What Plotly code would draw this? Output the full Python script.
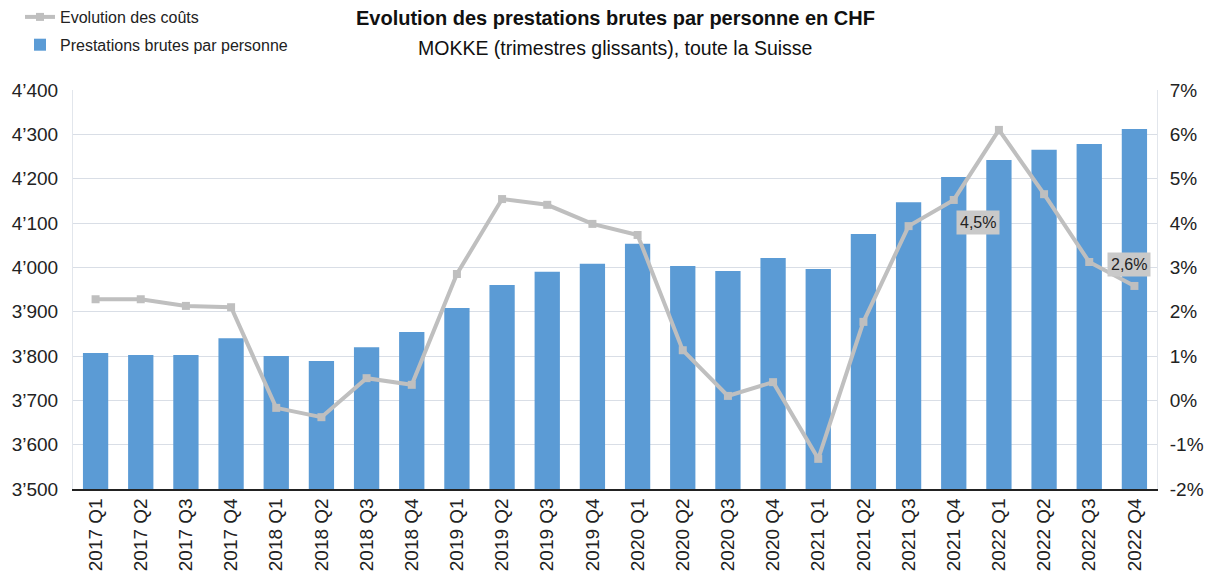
import plotly.graph_objects as go

categories = ["2017 Q1", "2017 Q2", "2017 Q3", "2017 Q4",
              "2018 Q1", "2018 Q2", "2018 Q3", "2018 Q4",
              "2019 Q1", "2019 Q2", "2019 Q3", "2019 Q4",
              "2020 Q1", "2020 Q2", "2020 Q3", "2020 Q4",
              "2021 Q1", "2021 Q2", "2021 Q3", "2021 Q4",
              "2022 Q1", "2022 Q2", "2022 Q3", "2022 Q4"]

prestations = [3807, 3802, 3802, 3840, 3800, 3789, 3820, 3854,
               3908, 3960, 3990, 4008, 4053, 4003, 3992, 4021,
               3996, 4075, 4147, 4204, 4242, 4265, 4278, 4312]

evolution = [2.28, 2.28, 2.13, 2.10, -0.17, -0.38, 0.50, 0.35,
             2.85, 4.54, 4.41, 3.98, 3.73, 1.13, 0.10, 0.41,
             -1.32, 1.77, 3.93, 4.52, 6.10, 4.65, 3.12, 2.58]

left_ticks = [3500, 3600, 3700, 3800, 3900, 4000, 4100, 4200, 4300, 4400]
left_ticktext = ["3’500", "3’600", "3’700", "3’800", "3’900", "4’000", "4’100", "4’200", "4’300", "4’400"]
right_ticks = [-2, -1, 0, 1, 2, 3, 4, 5, 6, 7]
right_ticktext = ["-2%", "-1%", "0%", "1%", "2%", "3%", "4%", "5%", "6%", "7%"]

label_points = [("2021 Q4", 4.52, "4,5%", 24, -23), ("2022 Q4", 2.58, "2,6%", -5, 21)]

FONT = "Liberation Sans, Arial, sans-serif"

fig = go.Figure()
fig.add_trace(go.Bar(
    x=categories, y=prestations, name="Prestations brutes par personne",
    legendrank=2, legendgroup="bars",
    marker=dict(color="#5B9BD5", line=dict(width=0)),
))
fig.add_trace(go.Scatter(
    x=categories, y=evolution, name="Evolution des coûts", yaxis="y2",
    legendrank=1, legendgroup="line",
    mode="lines+markers",
    line=dict(color="#BFBFBF", width=4),
    marker=dict(symbol="square", size=8, color="#BFBFBF"),
))

for cat, val, txt, dx, dy in label_points:
    fig.add_annotation(x=cat, y=val, yref="y2", text=txt, showarrow=False,
                       xshift=dx, yshift=dy, bgcolor="#C9C9C9",
                       font=dict(family=FONT, size=16, color="#222222"),
                       borderpad=3)

fig.add_annotation(xref="paper", yref="paper", x=0.5, y=(489 - 18) / 399,
                   yanchor="middle", xanchor="center",
                   text="<b>Evolution des prestations brutes par personne en CHF</b>",
                   showarrow=False, font=dict(family=FONT, size=20, color="#111111"))
fig.add_annotation(xref="paper", yref="paper", x=0.5, y=(489 - 48) / 399,
                   yanchor="middle", xanchor="center",
                   text="MOKKE (trimestres glissants), toute la Suisse",
                   showarrow=False, font=dict(family=FONT, size=19.5, color="#111111"))

fig.update_layout(
    width=1213, height=574,
    margin=dict(l=73, r=56, t=90, b=85, autoexpand=False),
    paper_bgcolor="white", plot_bgcolor="white",
    font=dict(family=FONT, size=19, color="#222222"),
    bargap=0.44,
    showlegend=True,
    legend=dict(xref="container", yref="container", x=0.0165, y=1.0,
                xanchor="left", yanchor="top", traceorder="grouped",
                tracegroupgap=4,
                font=dict(family=FONT, size=16, color="#222222"),
                bgcolor="rgba(0,0,0,0)", itemwidth=30),
    xaxis=dict(type="category", tickangle=-90, showgrid=False,
               range=[-0.5, len(categories) - 0.5], autorange=False,
               showline=True, linecolor="#222222", linewidth=1.5,
               ticks="", tickfont=dict(size=19), zeroline=False),
    yaxis=dict(range=[3500, 4400], tickvals=left_ticks, ticktext=left_ticktext,
               showgrid=True, gridcolor="#D9DEE6", gridwidth=1,
               showline=True, linecolor="#E2E6EC", ticks="", zeroline=False,
               ticklabelstandoff=10),
    yaxis2=dict(range=[-2, 7], tickvals=right_ticks, ticktext=right_ticktext,
                overlaying="y", side="right", showgrid=False,
                showline=True, linecolor="#E2E6EC", ticks="", zeroline=False,
                ticklabelstandoff=8),
)

fig.write_html("out.html", config={"displayModeBar": False},
               post_script="document.body.style.margin='0px';")
